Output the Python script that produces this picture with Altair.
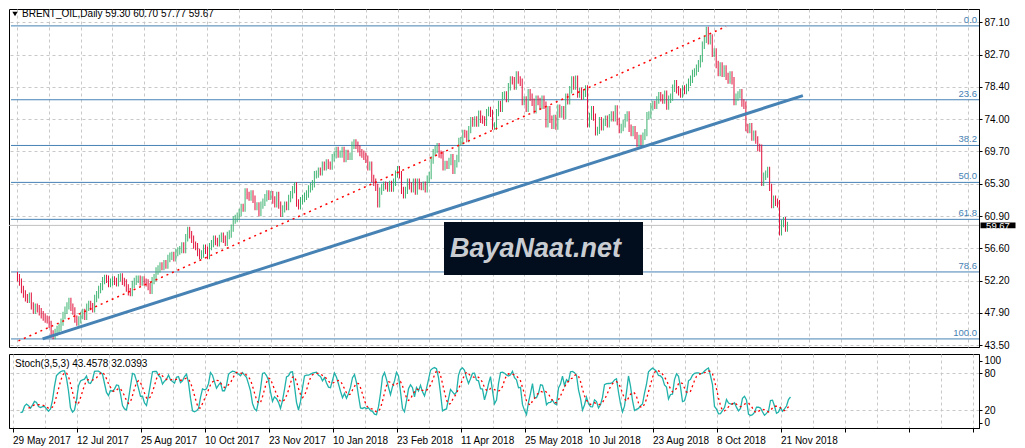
import altair as alt
import pandas as pd

# ---------------- data ----------------
closes = [
    52.6, 52.0, 51.0, 50.4, 49.9, 49.7, 50.1, 48.8, 48.2, 48.6,
    48.4, 48.0, 47.6, 47.3, 47.0, 46.9, 46.3, 45.0, 44.8, 45.2,
    45.6, 45.9, 46.6, 47.5, 48.2, 48.8, 49.4, 48.6, 48.1, 47.0,
    46.6, 46.9, 47.5, 47.9, 47.4, 48.6, 49.0, 48.7, 48.4, 49.8,
    50.3, 51.0, 51.4, 52.2, 52.5, 52.4, 51.8, 52.0, 52.3, 52.1,
    51.9, 52.6, 52.7, 52.1, 51.9, 51.2, 50.7, 50.6, 51.7, 52.1,
    52.4, 52.4, 52.0, 52.3, 52.0, 51.9, 51.4, 50.9, 52.2, 52.6,
    53.5, 53.8, 54.2, 54.1, 54.5, 54.3, 55.2, 55.5, 55.6, 55.3,
    56.0, 56.2, 56.4, 56.9, 56.4, 58.0, 59.0, 58.4, 57.8, 57.0,
    56.8, 56.0, 55.6, 55.8, 56.6, 56.3, 55.6, 56.8, 57.2, 57.8,
    57.5, 57.3, 57.9, 58.2, 57.8, 57.4, 58.3, 58.5, 59.3, 60.4,
    60.6, 60.9, 61.4, 62.1, 62.0, 64.2, 63.7, 63.5, 63.9, 63.2,
    62.2, 62.3, 61.4, 62.4, 62.8, 63.4, 63.9, 63.6, 63.8, 63.1,
    62.6, 63.7, 62.4, 61.3, 61.9, 62.4, 62.2, 63.3, 63.8, 64.5,
    65.0, 62.7, 62.3, 63.0, 63.3, 63.6, 63.9, 64.6, 64.9, 65.3,
    66.5, 66.6, 67.0, 66.9, 67.8, 67.6, 68.1, 67.8, 67.7, 68.8,
    69.2, 69.8, 69.3, 69.3, 69.8, 68.7, 69.4, 69.0, 69.0, 70.5,
    70.8, 70.5, 70.0, 69.5, 69.3, 69.0, 68.6, 67.6, 67.8, 66.0,
    65.5, 64.8, 62.6, 64.3, 64.8, 65.1, 65.0, 64.7, 65.2, 64.7,
    65.5, 66.6, 67.2, 66.5, 64.4, 63.8, 64.4, 65.5, 65.0, 64.6,
    65.5, 64.3, 65.5, 65.0, 64.9, 65.1, 64.6, 65.9, 66.4, 68.5,
    69.5, 69.9, 70.3, 69.3, 69.2, 67.6, 67.9, 67.8, 68.3, 68.8,
    67.1, 68.0, 68.7, 71.0, 71.1, 72.1, 72.0, 71.4, 72.6, 73.8,
    73.5, 73.9, 73.5, 74.7, 74.0, 73.9, 73.6, 74.9, 75.2, 74.8,
    73.1, 73.1, 74.9, 76.0, 75.5, 77.2, 77.3, 76.8, 78.4, 79.3,
    79.2, 78.5, 80.0, 79.3, 79.0, 76.4, 76.6, 75.5, 77.6, 77.0,
    76.3, 75.3, 76.7, 76.4, 75.9, 76.7, 75.9, 73.4, 75.3, 74.0,
    73.2, 74.1, 73.1, 75.5, 74.7, 75.3, 74.5, 77.0, 76.5, 78.0,
    79.3, 78.5, 79.4, 77.4, 77.8, 77.1, 77.5, 78.1, 73.4, 74.4,
    75.3, 74.3, 72.3, 72.5, 73.8, 73.0, 73.6, 74.0, 73.4, 74.2,
    74.6, 74.2, 75.4, 73.7, 72.6, 72.9, 73.4, 74.2, 74.6, 72.8,
    72.2, 72.6, 71.8, 70.8, 71.4, 71.0, 71.7, 72.2, 74.5, 74.6,
    75.7, 76.0, 75.9, 76.6, 77.2, 76.9, 76.6, 77.4, 75.8, 76.7,
    77.0, 78.2, 78.8, 78.0, 77.7, 77.4, 78.1, 77.9, 78.3, 79.0,
    79.4, 80.2, 80.4, 80.9, 81.5, 82.2, 84.0, 84.8, 86.0, 84.6,
    85.0, 82.9, 83.1, 81.4, 80.3, 81.2, 80.2, 80.8, 79.8, 79.3,
    80.0, 79.2, 76.4, 77.0, 77.3, 77.6, 76.2, 75.9, 72.9, 72.6,
    73.0, 71.6, 72.0, 71.2, 70.2, 70.1, 65.5, 66.3, 66.6, 67.1,
    64.8, 62.5, 63.2, 62.8, 62.6, 58.8, 59.9, 60.3, 59.3, 59.67,
]
first_open = 52.90

x_label_names = ["29 May 2017", "12 Jul 2017", "25 Aug 2017", "10 Oct 2017",
                 "23 Nov 2017", "10 Jan 2018", "23 Feb 2018", "11 Apr 2018",
                 "25 May 2018", "10 Jul 2018", "23 Aug 2018", "8 Oct 2018",
                 "21 Nov 2018"]
y_tick_values = [43.50, 47.90, 52.20, 56.60, 60.90, 65.30, 69.70, 74.00,
                 78.40, 82.70, 87.10]
stoch_tick_values = [0, 20, 80, 100]
fib_levels = [0.0, 23.6, 38.2, 50.0, 61.8, 78.6, 100.0]
fib_names = ["0.0", "23.6", "38.2", "50.0", "61.8", "78.6", "100.0"]
fib_high = 86.62
fib_low = 44.33
blue_trend_idx = [12.7, 396.8]
blue_trend_price = [44.33, 77.2]
red_trend_idx = [0.5, 358.0]
red_trend_price = [44.06, 86.53]
last_price = 59.67
header_text = "BRENT_OIL,Daily  59.30 60.70 57.77 59.67"
stoch_text = "Stoch(3,5,3) 43.4578 32.0393"
logo_text = "BayaNaat.net"

# ---------------- styling / layout ----------------
FONT = "Liberation Sans"
W, H1, H2 = 970, 338, 74
BAR_PAD = 0.5
UP, DOWN = "#3CB371", "#E0103A"
FIB_BLUE = "#4682B4"
GRID = "#C8C8C8"

# ---------------- tables ----------------
opens = [first_open] + closes[:-1]
bars_df = pd.DataFrame({
    "idx": range(len(closes)),
    "open": opens,
    "close": closes,
})
bars_df["high"] = bars_df[["open", "close"]].max(axis=1) + BAR_PAD
bars_df["low"] = bars_df[["open", "close"]].min(axis=1) - BAR_PAD
bars_df["dir"] = ["up" if c >= o else "down" for o, c in zip(opens, closes)]

# Stochastic(3,5,3): %K period 3, slowing 3, %D period 5
lo3 = bars_df["low"].rolling(3).min()
hi3 = bars_df["high"].rolling(3).max()
num = (bars_df["close"] - lo3).rolling(3).sum()
den = (hi3 - lo3).rolling(3).sum()
bars_df["k"] = 100 * num / den
bars_df["d"] = bars_df["k"].rolling(5).mean()
k_df = bars_df[["idx", "k"]].dropna()
d_df = bars_df[["idx", "d"]].dropna()

fib_df = pd.DataFrame({
    "label": fib_names,
    "price": [fib_high - lv / 100.0 * (fib_high - fib_low) for lv in fib_levels],
})
blue_df = pd.DataFrame({"idx": blue_trend_idx, "price": blue_trend_price})
red_df = pd.DataFrame({"idx": red_trend_idx, "price": red_trend_price})
last_df = pd.DataFrame({"price": [last_price], "label": [f"{last_price:.2f}"]})
one = pd.DataFrame({"k": [0]})

# ---------------- scales & axes ----------------
XS = alt.Scale(domain=[-1.75, 483.25], nice=False, zero=False)
YS = alt.Scale(domain=[43.24, 88.9], nice=False, zero=False)
SS = alt.Scale(domain=[-8.6, 111.3], nice=False, zero=False)
grid_x_vals = list(range(0, 481, 16))

X_MAIN = alt.Axis(values=grid_x_vals, labels=False, ticks=False, domain=False,
                  grid=True, gridDash=[3, 3], gridColor=GRID, title=None)
Y_MAIN = alt.Axis(orient="right", values=y_tick_values, format=".2f", grid=True,
                  gridDash=[3, 3], gridColor=GRID, tickSize=3, tickColor="black",
                  domainColor="black", labelPadding=2, labelOverlap=False, title=None)

names_js = "[" + ",".join("'" + s + "'" for s in x_label_names) + "]"
label_expr = (f"(datum.value % 32 === 0 && datum.value / 32 < {len(x_label_names)})"
              f" ? {names_js}[datum.value / 32] : ''")
X_STOCH = alt.Axis(values=grid_x_vals, labelExpr=label_expr, labelAlign="left",
                   labelPadding=3, labelOverlap=False, tickSize=4, tickColor="black",
                   tickOpacity={"condition": {"test": "datum.value % 32 === 0", "value": 1}, "value": 0},
                   grid=True, gridDash=[3, 3], gridColor=GRID, domainColor="black", title=None)
Y_STOCH = alt.Axis(orient="right", values=stoch_tick_values, grid=True, gridDash=[3, 3],
                   gridColor=GRID,
                   gridOpacity={"condition": {"test": "datum.value === 20 || datum.value === 80", "value": 1}, "value": 0},
                   tickSize=3, tickColor="black", domainColor="black", labelPadding=2,
                   labelOverlap=False, title=None)


def xm():
    return alt.X("idx:Q", scale=XS, axis=X_MAIN)


def ym(f):
    return alt.Y(f"{f}:Q", scale=YS, axis=Y_MAIN)


# ---------------- main panel ----------------
bars = alt.Chart(bars_df).mark_bar(width=1, opacity=1, strokeWidth=0).encode(
    x=xm(), y=ym("low"), y2="high:Q",
    color=alt.condition("datum.dir === 'up'", alt.value(UP), alt.value(DOWN)),
)
fib_lines = alt.Chart(fib_df).mark_rule(color=FIB_BLUE, strokeWidth=1).encode(
    x=alt.value(2), x2=alt.value(W), y=ym("price"))
fib_labels = alt.Chart(fib_df).mark_text(align="right", baseline="bottom", dy=-1,
                                         color=FIB_BLUE, fontSize=9.5, font=FONT).encode(
    x=alt.value(W - 2), y=ym("price"), text="label:N")
last_line = alt.Chart(last_df).mark_rule(color="#C0C0C0", strokeWidth=1).encode(
    x=alt.value(0), x2=alt.value(W), y=ym("price"))
blue_line = alt.Chart(blue_df).mark_line(color=FIB_BLUE, strokeWidth=3).encode(
    x=xm(), y=ym("price"))
red_line = alt.Chart(red_df).mark_line(color="#FF0000", strokeWidth=1.5, strokeDash=[2, 4]).encode(
    x=xm(), y=ym("price"))
logo_box = alt.Chart(one).mark_rect(color="#020E1E").encode(
    x=alt.value(435), x2=alt.value(634), y=alt.value(213), y2=alt.value(266))
logo_txt = alt.Chart(one).mark_text(align="left", baseline="middle", font=FONT, fontSize=27,
                                    fontWeight="bold", fontStyle="italic", color="#C9CDD2").encode(
    x=alt.value(441), y=alt.value(240), text=alt.value(logo_text))
tri = alt.Chart(one).mark_point(shape="triangle-down", filled=True, size=28, color="black",
                                opacity=1).encode(x=alt.value(6), y=alt.value(5))
header = alt.Chart(one).mark_text(align="left", baseline="middle", font=FONT, fontSize=10,
                                  color="black").encode(
    x=alt.value(13), y=alt.value(5), text=alt.value(header_text))
price_box = alt.Chart(last_df).mark_point(shape="M-1,-0.17L1,-0.17L1,0.17L-1,0.17Z", filled=True,
                                          size=1225, color="black", opacity=1, strokeWidth=0).encode(
    x=alt.value(W + 19), y=ym("price"))
price_txt = alt.Chart(last_df).mark_text(color="white", fontSize=9.5, font=FONT, align="center",
                                         baseline="middle", dy=1).encode(
    x=alt.value(W + 19), y=ym("price"), text="label:N")

main = alt.layer(fib_lines, last_line, bars, blue_line, red_line, fib_labels, logo_box,
                 logo_txt, tri, header, price_box, price_txt).properties(width=W, height=H1)

# ---------------- stochastic panel ----------------
k_line = alt.Chart(k_df).mark_line(color="#20B2AA", strokeWidth=1.3).encode(
    x=alt.X("idx:Q", scale=XS, axis=X_STOCH),
    y=alt.Y("k:Q", scale=SS, axis=Y_STOCH))
d_line = alt.Chart(d_df).mark_line(color="#FF0000", strokeWidth=1.3, strokeDash=[2, 3]).encode(
    x=alt.X("idx:Q", scale=XS, axis=X_STOCH),
    y=alt.Y("d:Q", scale=SS, axis=Y_STOCH))
stoch_lbl = alt.Chart(one).mark_text(align="left", baseline="middle", font=FONT, fontSize=10,
                                     color="black").encode(
    x=alt.value(6), y=alt.value(10), text=alt.value(stoch_text))
stoch = alt.layer(k_line, d_line, stoch_lbl).properties(width=W, height=H2)

chart = alt.vconcat(main, stoch, spacing=2).properties(
    padding={"left": 0, "top": 0, "right": 0, "bottom": 0}
).configure_view(stroke="black", strokeWidth=1).configure_axis(
    labelFont=FONT, labelFontSize=10, labelColor="black"
)

chart.save("out.html", embed_options={"renderer": "svg", "actions": False})
